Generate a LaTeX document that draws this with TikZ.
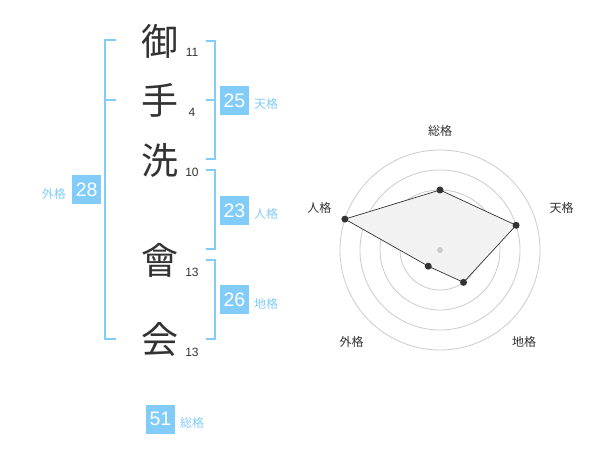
\documentclass[tikz,border=0pt]{standalone}
\usepackage{fontspec}
\setmainfont{Liberation Sans}
\newfontfamily\cjk{Noto Sans CJK JP}
\definecolor{kakublue}{RGB}{130,204,250}
\definecolor{inkgray}{RGB}{51,51,51}
\definecolor{ringgray}{RGB}{204,204,204}
\tikzset{
  kanji/.style={font=\cjk\fontsize{37}{37}\selectfont, text=inkgray, inner sep=0pt},
  strokenum/.style={font=\fontsize{12}{12}\selectfont, text=inkgray, inner sep=0pt},
  scorebox/.style={fill=kakublue, text=white, minimum size=29pt, inner sep=0pt, font=\fontsize{19.5}{19.5}\selectfont},
  kakulabel/.style={font=\cjk\fontsize{12}{12}\selectfont, text=kakublue, inner sep=0pt},
  kakubracket/.style={draw=kakublue, line width=2pt},
  ring/.style={draw=ringgray, line width=0.8pt},
  axislabel/.style={font=\cjk\fontsize{12}{12}\selectfont, text=inkgray, inner sep=0pt},
  vdot/.style={circle, fill=inkgray, inner sep=0pt, minimum size=7pt},
}
\begin{document}
\begin{tikzpicture}[x=1pt,y=-1pt]
\fill[white] (0,0) rectangle (600,470);

% name characters and stroke counts
\node[kanji] (c1) at (160,41) {御};
\node[kanji] (c2) at (160,100) {手};
\node[kanji] (c3) at (160,160) {洗};
\node[kanji] (c4) at (160,260) {會};
\node[kanji] (c5) at (160,340) {会};
\node[strokenum] (n1) at (192,52) {11};
\node[strokenum] (n2) at (192,112) {4};
\node[strokenum] (n3) at (192,172) {10};
\node[strokenum] (n4) at (192,272) {13};
\node[strokenum] (n5) at (192,352) {13};

% brackets
\draw[kakubracket] (116,40) -- (105,40) -- (105,339) -- (116,339);
\draw[kakubracket] (105,100) -- (116,100);
\draw[kakubracket] (206,41) -- (214.5,41) -- (214.5,159.5) -- (206,159.5);
\draw[kakubracket] (206,100) -- (214.5,100);
\draw[kakubracket] (206,170) -- (214.5,170) -- (214.5,249) -- (206,249);
\draw[kakubracket] (206,260) -- (214.5,260) -- (214.5,339) -- (206,339);

% scores
\node[scorebox] (ten) at (234.5,100.5) {25};
\node[scorebox] (jin) at (234.5,211) {23};
\node[scorebox] (chi) at (234.5,300) {26};
\node[scorebox] (gai) at (86.7,190) {28};
\node[scorebox] (sou) at (160.5,419) {51};
\node[kakulabel, anchor=west] at (254,104) {天格};
\node[kakulabel, anchor=west] at (254,214) {人格};
\node[kakulabel, anchor=west] at (254,304) {地格};
\node[kakulabel, anchor=east] at (66,194) {外格};
\node[kakulabel, anchor=west] at (180,423) {総格};

% radar chart
\begin{scope}[shift={(440,250)},x=1pt,y=1pt]
\foreach \r in {20,40,...,100}
  \draw[ring] (0,0) circle (\r);
\coordinate (psou) at (90:60);
\coordinate (pten) at (18:80);
\coordinate (pchi) at (-54:40);
\coordinate (pgai) at (-126:20);
\coordinate (pjin) at (162:100);
\filldraw[fill=gray!10, draw=inkgray, line width=0.7pt] (psou) -- (pten) -- (pchi) -- (pgai) -- (pjin) -- cycle;
\node[circle, fill=ringgray, inner sep=0pt, minimum size=6pt] (hub) at (0,0) {};
\foreach \p in {psou,pten,pchi,pgai,pjin}
  \node[vdot] at (\p) {};
\node[axislabel] (lsou) at (0,119) {総格};
\node[axislabel] (lten) at (121.7,41.7) {天格};
\node[axislabel] (lchi) at (84,-91.7) {地格};
\node[axislabel] (lgai) at (-88.3,-91.7) {外格};
\node[axislabel] (ljin) at (-120.7,41.7) {人格};
\end{scope}
\end{tikzpicture}
\end{document}
